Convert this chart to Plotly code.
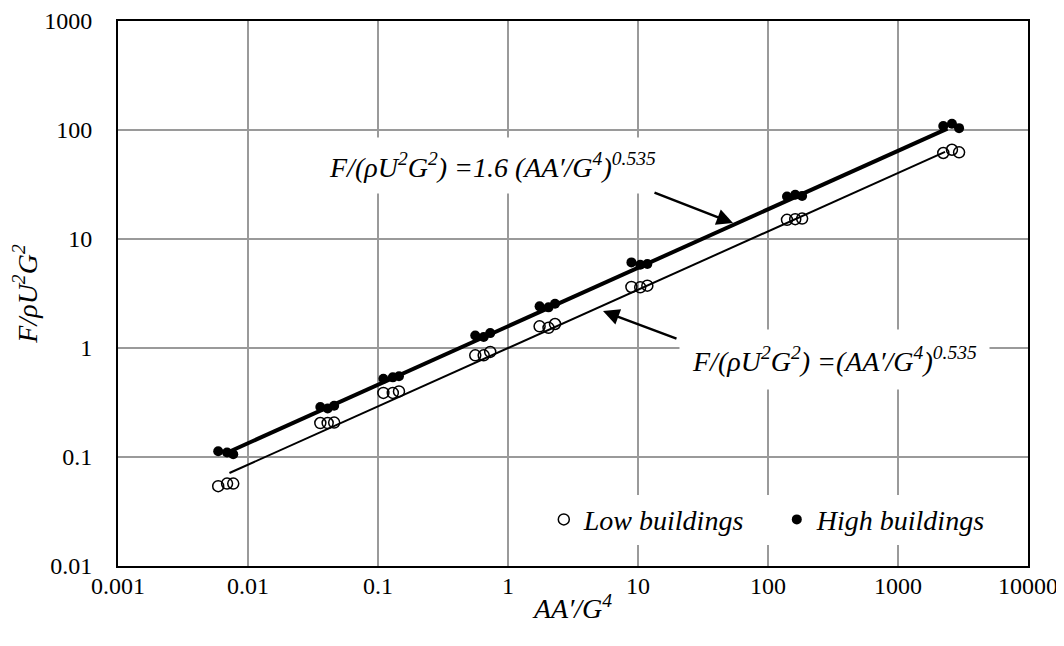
import plotly.graph_objects as go
import math

# ---- data ----
pts_x = [0.0059, 0.0069, 0.0077, 0.036, 0.041, 0.046, 0.11, 0.13, 0.145,
         0.56, 0.65, 0.73, 1.75, 2.05, 2.3, 8.9, 10.4, 11.8,
         140, 162, 183, 2230, 2600, 2950]
low_y = [0.054, 0.057, 0.057, 0.205, 0.205, 0.207, 0.387, 0.387, 0.40,
         0.857, 0.857, 0.92, 1.58, 1.53, 1.66, 3.63, 3.6, 3.73,
         15.0, 15.2, 15.4, 61.5, 65.9, 62.4]
high_y = [0.113, 0.110, 0.106, 0.288, 0.279, 0.295, 0.523, 0.538, 0.55,
          1.30, 1.26, 1.37, 2.41, 2.36, 2.55, 6.1, 5.81, 5.9,
          24.5, 25.5, 24.8, 109, 114, 104]

fit_high_x = [0.0073, 2400]
fit_high_y = [0.113, 103]
fit_low_x = [0.0072, 2300]
fit_low_y = [0.0713, 62.9]

x_ticks = [0.001, 0.01, 0.1, 1, 10, 100, 1000, 10000]
x_ticktext = ["0.001", "0.01", "0.1", "1", "10", "100", "1000", "10000"]
y_ticks = [0.01, 0.1, 1, 10, 100, 1000]
y_ticktext = ["0.01", "0.1", "1", "10", "100", "1000"]

FONT = "Liberation Serif, Times New Roman, serif"

fig = go.Figure()
fig.add_trace(go.Scatter(x=fit_low_x, y=fit_low_y, mode="lines",
                         line=dict(color="black", width=2), showlegend=False,
                         hoverinfo="skip"))
fig.add_trace(go.Scatter(x=fit_high_x, y=fit_high_y, mode="lines",
                         line=dict(color="black", width=4), showlegend=False,
                         hoverinfo="skip"))
fig.add_trace(go.Scatter(x=pts_x, y=low_y, mode="markers", name="<i>Low buildings</i>",
                         marker=dict(symbol="circle-open", size=11, color="black",
                                     line=dict(width=1.5, color="black"))))
fig.add_trace(go.Scatter(x=pts_x, y=high_y, mode="markers", name="<i>High buildings</i>",
                         marker=dict(symbol="circle", size=10, color="black")))

eq_high = "<i>F/(ρU<sup>2</sup>G<sup>2</sup>) =1.6 (AA′/G<sup>4</sup>)<sup>0.535</sup></i>"
eq_low = "<i>F/(ρU<sup>2</sup>G<sup>2</sup>) =(AA′/G<sup>4</sup>)<sup>0.535</sup></i>"

annotations = [
    dict(x=-0.123, y=1.67, xref="x", yref="y", text=eq_high, showarrow=False,
         bgcolor="white", borderpad=10, font=dict(family=FONT, size=28, color="black")),
    dict(x=2.512, y=-0.101, xref="x", yref="y", text=eq_low, showarrow=False,
         bgcolor="white", borderpad=12, font=dict(family=FONT, size=28, color="black")),
    dict(x=math.log10(53.8), y=math.log10(14.0), xref="x", yref="y", text="",
         showarrow=True, ax=-80, ay=-31, arrowhead=2, arrowsize=1.3, arrowwidth=2.5,
         arrowcolor="black"),
    dict(x=math.log10(5.38), y=math.log10(2.18), xref="x", yref="y", text="",
         showarrow=True, ax=75, ay=28, arrowhead=2, arrowsize=1.3, arrowwidth=2.5,
         arrowcolor="black"),
]

fig.update_layout(
    width=1064, height=646, autosize=False,
    margin=dict(l=110, r=44, t=13, b=88, autoexpand=False),
    paper_bgcolor="white", plot_bgcolor="white",
    font=dict(family=FONT, size=24, color="black"),
    annotations=annotations,
    legend=dict(orientation="h", x=0.980, y=0.085, xanchor="right", yanchor="middle",
                bgcolor="white", font=dict(family=FONT, size=28, color="black"),
                itemwidth=30, tracegroupgap=0, entrywidth=188, entrywidthmode="pixels"),
)
fig.update_xaxes(type="log", range=[-3, 4], tickvals=x_ticks, ticktext=x_ticktext,
                 showgrid=True, gridcolor="#9a9a9a", gridwidth=1.5,
                 showline=True, linecolor="black", linewidth=2, mirror=True,
                 ticks="", ticklabelstandoff=-3, ticklabeloverflow="allow", zeroline=False,
                 automargin=False,
                 title=dict(text="<i>AA′/G<sup>4</sup></i>", font=dict(size=28), standoff=1))
fig.update_yaxes(type="log", range=[-2, 3], tickvals=y_ticks, ticktext=y_ticktext,
                 showgrid=True, gridcolor="#9a9a9a", gridwidth=1.5,
                 showline=True, linecolor="black", linewidth=2, mirror=True,
                 ticks="", ticklabelstandoff=19, ticklabeloverflow="allow", zeroline=False,
                 automargin=False,
                 title=dict(text="<i>F/ρU<sup>2</sup>G<sup>2</sup></i>", font=dict(size=28), standoff=9))

fig.write_html("out.html")
